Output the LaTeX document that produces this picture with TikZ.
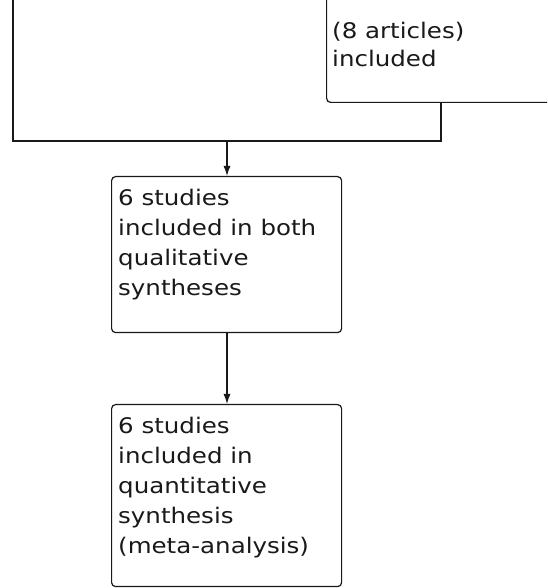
\documentclass[tikz,border=0pt]{standalone}
\usepackage{fontspec}
\newfontfamily\boxfont[FakeStretch=1.14]{DejaVu Sans}
\usetikzlibrary{arrows.meta}
\begin{document}
\begin{tikzpicture}[x=1pt,y=1pt,
  line/.style={draw=black!90, line width=1.2pt},
  boxshape/.style={line, rounded corners=4pt, inner sep=0pt},
  boxtext/.style={anchor=north west, inner sep=0pt, align=left, text=black!90,
    font=\boxfont\fontsize{21.5}{30}\selectfont},
  arr/.style={line, -{Latex[length=10pt,width=7pt]}}]
\clip (0,0) rectangle (547,588);
\fill[white] (0,0) rectangle (547,588);
% top-right box (cut by the frame)
\node[boxshape, minimum width=280pt, minimum height=160pt, anchor=south west] (topbox) at (326,485) {};
\node[boxtext, font=\boxfont\fontsize{21.5}{28}\selectfont] (toptext) at (332,566) {(8 articles)\\included};
% middle box
\node[boxshape, minimum width=230pt, minimum height=156pt, anchor=north west] (mid) at (111,412) {};
\node[boxtext] (midtext) at (118,399) {6 studies\\included in both\\qualitative\\syntheses};
% bottom box
\node[boxshape, minimum width=230pt, minimum height=182pt, anchor=north west] (bot) at (111,184) {};
\node[boxtext] (bottext) at (118,171) {6 studies\\included in\\quantitative\\synthesis\\(meta-analysis)};
% connectors
\coordinate (lt) at (13,600);
\coordinate (jl) at (13,447);
\coordinate (jr) at (441,447);
\coordinate (tb) at (441,485);
\coordinate (jm) at (227,447);
\draw[line] (lt) -- (jl) -- (jr) -- (tb);
\draw[arr] (jm) -- (jm |- mid.north);
\draw[arr] (jm |- mid.south) -- (jm |- bot.north);
\end{tikzpicture}
\end{document}
